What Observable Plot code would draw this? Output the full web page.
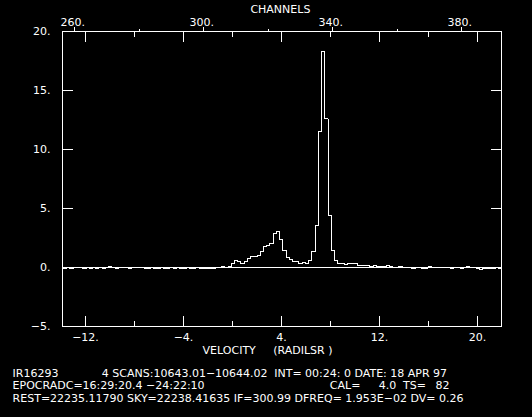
<!DOCTYPE html>
<html>
<head>
<meta charset="utf-8">
<script src="https://cdn.jsdelivr.net/npm/d3@7"></script>
<script src="https://cdn.jsdelivr.net/npm/@observablehq/plot@0.6"></script>
<style>
  html, body { margin: 0; padding: 0; background: #000; }
  svg text { white-space: pre; }
</style>
</head>
<body>
<div id="chart"></div>
<script>
// ---- data ----
const firstChannel = 256;
const intensities = [
  -0.12, -0.12, 0, -0.08, 0, 0, 0, -0.08, 0, -0.08,          // 256-265
  0, -0.08, 0, -0.08, 0, 0.08, 0, -0.08, 0, 0,               // 266-275
  0, -0.08, 0, 0, 0, 0, -0.08, -0.08, 0, -0.08,              // 276-285
  -0.08, 0, -0.08, -0.08, 0, -0.08, 0, -0.08, -0.08, 0,      // 286-295
  -0.08, -0.08, 0, -0.08, -0.08, -0.08, -0.08, -0.08, 0, 0,  // 296-305
  0.08, 0, 0.08, 0.34, 0.59, 0.5, 0.34, 0.5, 0.76, 0.93,     // 306-315
  0.93, 1.0, 1.36, 1.78, 1.86, 2.03, 2.88, 3.05, 2.37, 1.44, // 316-325
  0.85, 0.68, 0.5, 0.5, 0.34, 0.42, 0.34, 0.59, 1.36, 3.56,  // 326-335
  11.5, 18.3, 12.6, 4.4, 1.44, 0.59, 0.34, 0.34, 0.25, 0.34, // 336-345
  0.34, 0.34, 0.17, 0.17, 0.17, 0.17, 0.08, 0.17, 0.08, 0.08,// 346-355
  0.08, 0.17, 0.08, 0, 0, 0.08, 0, 0, 0, -0.08,              // 356-365
  0, 0, -0.08, -0.08, 0.08, 0, 0, 0, 0, 0,                   // 366-375
  0, -0.08, 0, 0, -0.08, 0, 0.05, 0, 0, -0.08,               // 376-385
  -0.17, -0.08, -0.08, -0.08, -0.08, 0, -0.08, -0.08         // 386-393
];

// axis calibration (channel -> velocity)
const velocityAtChannel260 = -12.873;
const velocityPerChannel = 0.2633;
const velocityDomain = [-13.878, 21.959];
const intensityDomain = [-5, 20];

// tick values / labels
const velocityMajorTicks = [-12, -4, 4, 12, 20];
const velocityMinorTicks = [-8, 0, 8, 16];
const intensityTicks = [-5, 0, 5, 10, 15, 20];
const intensityInnerTicks = [0, 5, 10, 15];
const channelMajorTicks = [260, 300, 340, 380];
const channelMinorTicks = [280, 320, 360];

const topTitle = "CHANNELS";
const bottomTitle = ["VELOCITY", "(RADILSR )"];
const captionLines = [
  [["IR16293", 12.6], ["4 SCANS:10643.01−10644.02", 101.8], ["INT= 00:24: 0 DATE: 18 APR 97", 274.2]],
  [["EPOCRADC=16:29:20.4 −24:22:10", 12.6], ["CAL=", 329.8], ["4.0", 378.7], ["TS=", 403.1], ["82", 435.4]],
  [["REST=22235.11790 SKY=22238.41635 IF=300.99 DFREQ= 1.953E−02 DV= 0.26", 12.6]]
];

// ---- helpers ----
const toV = c => velocityAtChannel260 + (c - 260) * velocityPerChannel;
const toC = v => 260 + (v - velocityAtChannel260) / velocityPerChannel;
const fmt = d => (d < 0 ? "−" : "") + Math.abs(d) + ".";

const spectrum = intensities.map((y, i) => ({
  channel: firstChannel + i,
  velocity: toV(firstChannel + i),
  intensity: y
}));

const W = 532, Hh = 417;
const mL = 62, mR = 31, mT = 31, mB = 91;
const FW = W - mL - mR;  // frame width
const FH = Hh - mT - mB; // frame height

const white = "#fff";
const crisp = {stroke: white, strokeWidth: 1, shapeRendering: "crispEdges"};

const plot = Plot.plot({
  width: W,
  height: Hh,
  marginLeft: mL,
  marginRight: mR,
  marginTop: mT,
  marginBottom: mB,
  style: {background: "#000", color: white, fontFamily: "DejaVu Sans", fontSize: "11px", overflow: "visible"},
  x: {domain: velocityDomain},
  y: {domain: intensityDomain},
  marks: [
    Plot.frame(crisp),
    Plot.ruleY([0], crisp),
    // velocity ticks, bottom (inward)
    Plot.ruleX(velocityMajorTicks, {...crisp, insetTop: FH - 10}),
    Plot.ruleX(velocityMinorTicks, {...crisp, insetTop: FH - 5.5}),
    // velocity ticks, top (inward)
    Plot.ruleX(velocityMajorTicks, {...crisp, insetBottom: FH - 10.5}),
    Plot.ruleX(velocityMinorTicks, {...crisp, insetBottom: FH - 6}),
    // channel ticks above frame
    Plot.ruleX(channelMajorTicks.map(toV), {...crisp, insetTop: -4.5, insetBottom: FH}),
    Plot.ruleX(channelMinorTicks.map(toV), {...crisp, insetTop: -2, insetBottom: FH}),
    // intensity ticks left & right (inward)
    Plot.ruleY(intensityInnerTicks, {...crisp, insetRight: FW - 11}),
    Plot.ruleY(intensityInnerTicks, {...crisp, insetLeft: FW - 10}),
    // axis labels
    Plot.axisY({ticks: intensityTicks, tickSize: 0, tickPadding: 12, tickFormat: fmt, label: null}),
    Plot.axisX({anchor: "bottom", ticks: velocityMajorTicks, tickSize: 0, tickPadding: 7, tickFormat: fmt, label: null}),
    Plot.axisX({anchor: "top", ticks: channelMajorTicks.map(toV), tickSize: 0, tickPadding: 6, dx: -2,
                tickFormat: v => Math.round(toC(v)) + ".", label: null}),
    // spectrum
    Plot.line(spectrum, {x: "velocity", y: "intensity", curve: "step", ...crisp, clip: true})
  ]
});

const svg = d3.select(plot);
const addText = (x, y, t, anchor = "start") =>
  svg.append("text").attr("x", x).attr("y", y).attr("fill", white)
     .attr("text-anchor", anchor).style("font-family", "DejaVu Sans").style("font-size", "11px").text(t);

addText(280.4, 13, topTitle, "middle");
addText(202.6, 353.5, bottomTitle[0]);
addText(273.2, 353.5, bottomTitle[1]);
const captionBaselines = [377, 389, 402];
captionLines.forEach((segs, i) => segs.forEach(([t, x]) => addText(x, captionBaselines[i], t)));

document.getElementById("chart").appendChild(plot);
</script>
</body>
</html>
